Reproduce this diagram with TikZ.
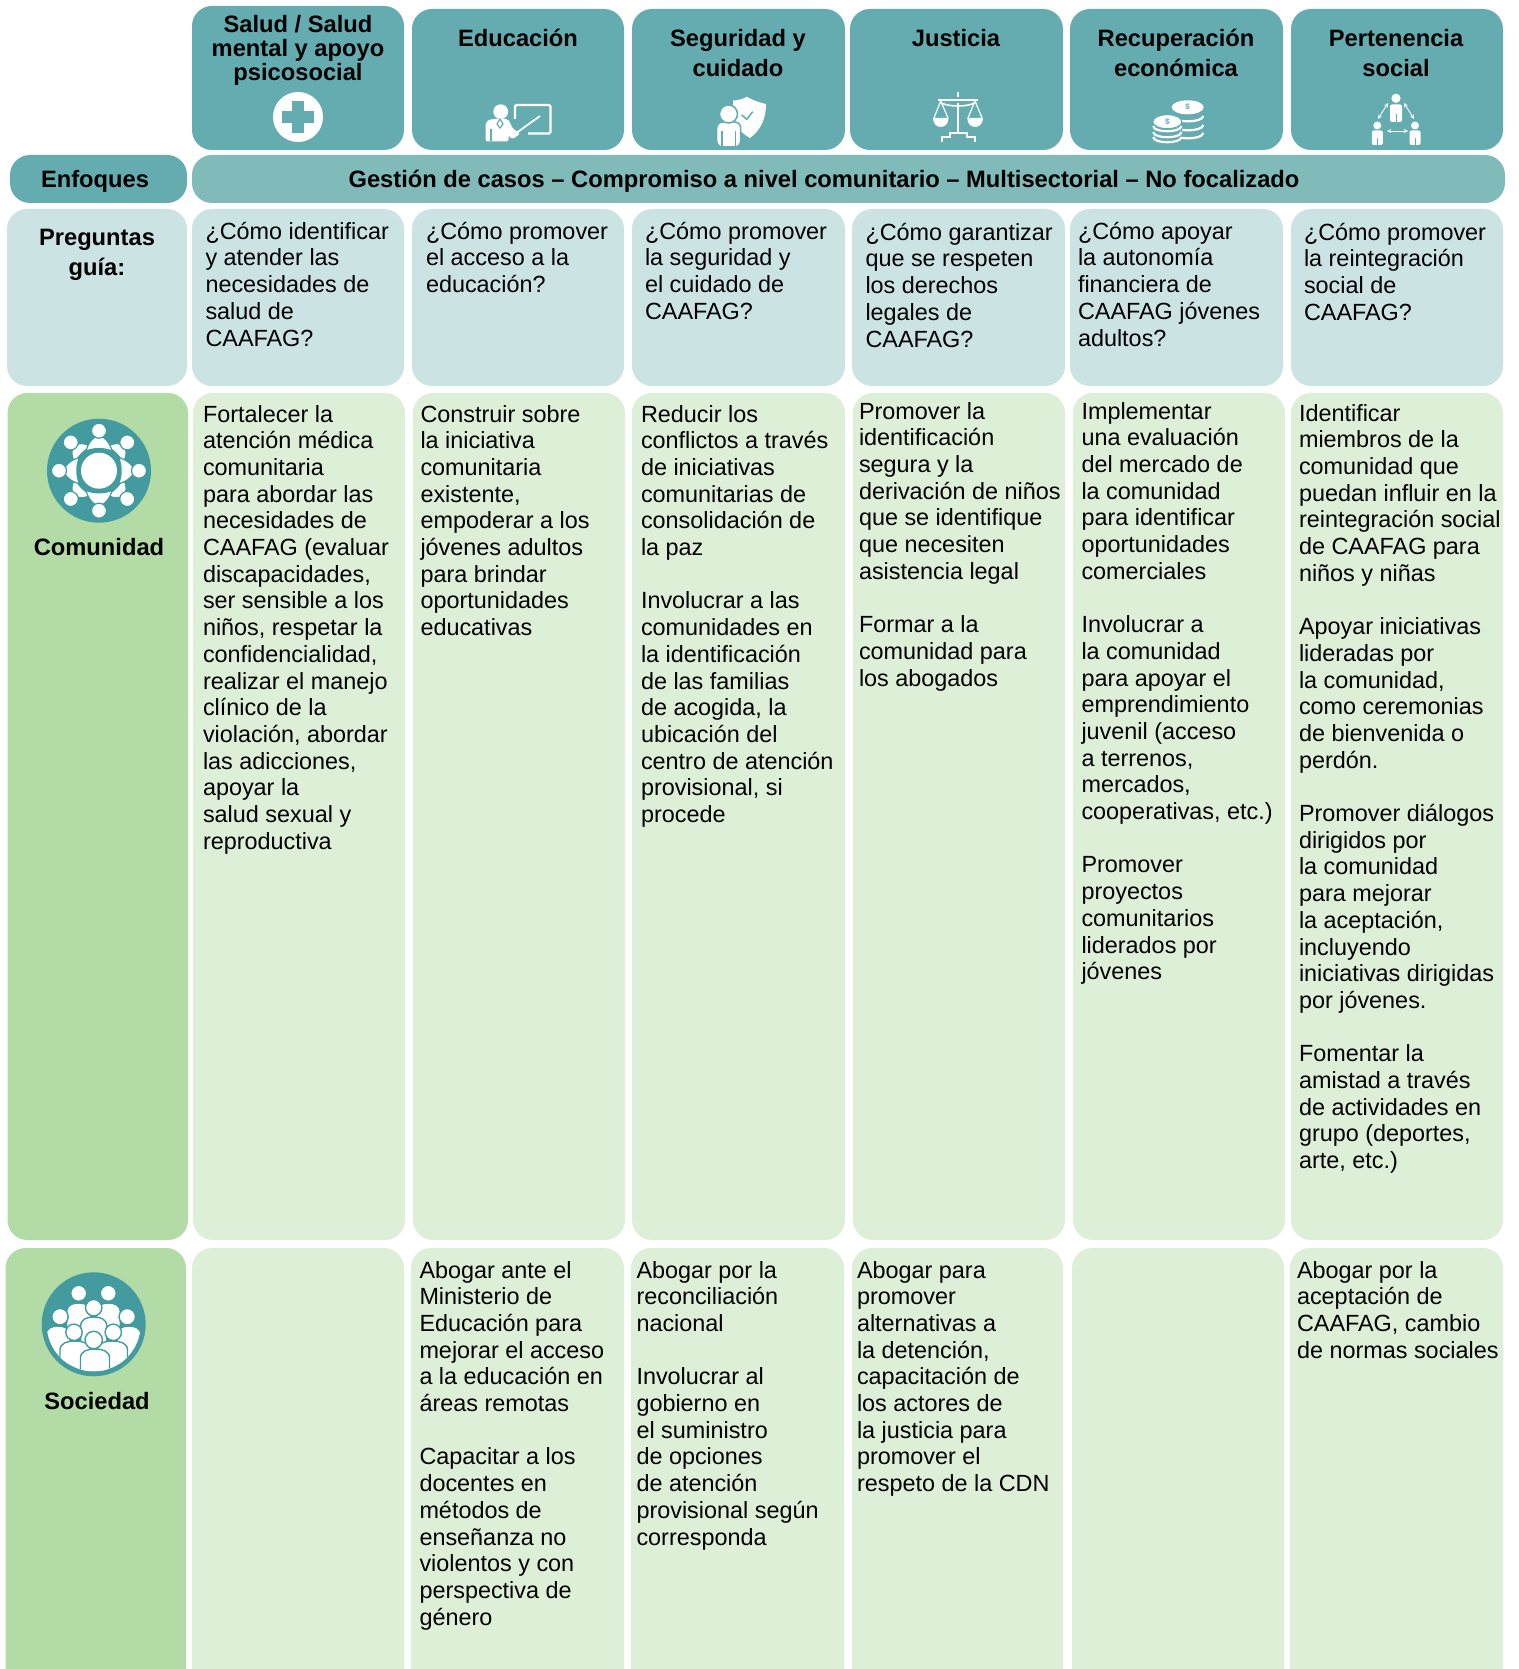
\documentclass[tikz,border=0pt]{standalone}
\usepackage{fontspec}
\setmainfont{Liberation Sans}
\definecolor{headteal}{HTML}{65ACB0}
\definecolor{bandteal}{HTML}{80BAB9}
\definecolor{paleteal}{HTML}{CBE3E3}
\definecolor{leftgreen}{HTML}{B3DBA6}
\definecolor{palegreen}{HTML}{DEEFD8}
\definecolor{iconteal}{HTML}{439A9F}
\newcommand{\cellbox}[5]{\fill[#1,rounded corners=20pt] (#2,#3) rectangle (#4,#5);}
\newcommand{\bodytext}[4]{\node[bodytxt] (#1) at (#2,{#3-17}) {\rule{0pt}{17pt}#4};}
\newcommand{\crowd}[7]{%
  \filldraw[fill=white,draw=iconteal,line width=1.4pt] ({#4-#5},#7) -- ({#4-#5},{#6+9}) .. controls ({#4-#5},{#6+2}) and ({#4-#5*0.5},#6) .. (#4,#6) .. controls ({#4+#5*0.5},#6) and ({#4+#5},{#6+2}) .. ({#4+#5},{#6+9}) -- ({#4+#5},#7) -- cycle;
  \filldraw[fill=white,draw=iconteal,line width=1.4pt] (#1,#2) circle[radius=#3 pt];}
\newcommand{\coinarc}[4]{\draw[white,line width=2.2pt] ({#1-#3},#2) .. controls ({#1-#3},{#2+#4}) and ({#1+#3},{#2+#4}) .. ({#1+#3},#2);}
\newcommand{\minifig}[6]{%
  \fill[white] (#1,#2) circle[radius=#3 pt];
  \fill[white,rounded corners=2pt] ({#1-#4},#5) rectangle ({#1+#4},#6);
  \draw[headteal,line width=0.8pt] (#1,{#5+(#6-#5)*0.55}) -- (#1,#6);}
\tikzset{
  x=1pt,y=-1pt,
  bodytxt/.style={anchor=north west,inner sep=0pt,outer sep=0pt,align=left,text=black,font=\fontsize{23.4}{26.7}\selectfont},
  headtxt/.style={anchor=center,inner sep=0pt,outer sep=0pt,align=center,text=black,font=\bfseries\fontsize{23.7}{30}\selectfont},
  tighttxt/.style={anchor=center,inner sep=0pt,outer sep=0pt,align=center,text=black,font=\bfseries\fontsize{23.7}{24}\selectfont},
  dollar/.style={inner sep=0pt,text=headteal,font=\bfseries\fontsize{8}{8}\selectfont},
  iconline/.style={white,line width=2pt},
  socarrow/.style={white,line width=0.9pt,<->,>=stealth},
}
\begin{document}
\begin{tikzpicture}
\useasboundingbox (0,0) rectangle (1518,1669);
\clip (0,0) rectangle (1518,1669);
\fill[white] (0,0) rectangle (1518,1669);
% header row
\cellbox{headteal}{192}{6}{404}{150}
\cellbox{headteal}{412}{9}{624}{150}
\cellbox{headteal}{632}{9}{845}{150}
\cellbox{headteal}{850}{9}{1063}{150}
\cellbox{headteal}{1070}{9}{1283}{150}
\cellbox{headteal}{1291}{9}{1503}{150}
% band
\cellbox{headteal}{10}{155}{187}{203}
\cellbox{bandteal}{192}{155}{1505}{203}
% question row
\cellbox{paleteal}{7}{209}{187}{386}
\cellbox{paleteal}{192}{209}{404}{386}
\cellbox{paleteal}{412}{209}{624}{386}
\cellbox{paleteal}{632}{209}{845}{386}
\cellbox{paleteal}{852}{209}{1065}{386}
\cellbox{paleteal}{1070}{209}{1283}{386}
\cellbox{paleteal}{1291}{209}{1503}{386}
% community row
\cellbox{leftgreen}{7.5}{393}{188}{1240}
\cellbox{palegreen}{193}{393}{405}{1240}
\cellbox{palegreen}{413}{393}{625}{1240}
\cellbox{palegreen}{632}{393}{845}{1240}
\cellbox{palegreen}{853}{393}{1065}{1240}
\cellbox{palegreen}{1073}{393}{1285}{1240}
\cellbox{palegreen}{1291}{393}{1503}{1240}
% society row
\cellbox{leftgreen}{5.5}{1248}{186}{1720}
\cellbox{palegreen}{192}{1248}{404}{1720}
\cellbox{palegreen}{411}{1248}{624}{1720}
\cellbox{palegreen}{631}{1248}{844}{1720}
\cellbox{palegreen}{852}{1248}{1063}{1720}
\cellbox{palegreen}{1072}{1248}{1284}{1720}
\cellbox{palegreen}{1290}{1248}{1503}{1720}
% header text
\node[tighttxt] (h1) at (298,50) {Salud / Salud\\mental y apoyo\\psicosocial};
\node[headtxt] (h2) at (518,38) {Educación};
\node[headtxt] (h3) at (738,53) {Seguridad y\\cuidado};
\node[headtxt] (h4) at (956,38) {Justicia};
\node[headtxt] (h5) at (1176,53) {Recuperación\\económica};
\node[headtxt] (h6) at (1396,53) {Pertenencia\\social};
\node[headtxt] (enf) at (95,181.5) {Enfoques};
\node[headtxt] (ges) at (824,181) {Gestión de casos – Compromiso a nivel comunitario – Multisectorial – No focalizado};
\node[headtxt] (preg) at (97,255) {Preguntas\\guía:};
\node[headtxt] (com) at (99,547) {Comunidad};
\node[headtxt] (soc) at (97,1401.5) {Sociedad};
% icon: health
\fill[white] (298,117) circle[radius=25pt];
\fill[headteal] (292,101) rectangle (304,133);
\fill[headteal] (282,111) rectangle (314,123);
% icon: education
\fill[white] (500.7,111.7) circle[radius=7.4pt];
\fill[white,rounded corners=2pt] (485.7,141.5) -- (485.7,122) -- (491,119) -- (508,119) -- (513,129) -- (517,131) -- (520,134) -- (512,139.5) -- (508.5,135) -- (508.5,141.5) -- cycle;
\draw[headteal,line width=1.2pt] (491,129) -- (491,141.5);
\draw[headteal,line width=1.2pt] (500,119) -- (497,124) -- (500,128) -- (503,124) -- cycle;
\draw[white,line width=2.2pt,rounded corners=1.5pt] (515,119) -- (515,105) -- (550.5,105) -- (550.5,133.5) -- (528,133.5);
\draw[white,line width=1.8pt] (517,132.5) -- (540,116);
% icon: safety
\fill[white] (733,100.5) .. controls (738,100.5) and (743,99) .. (747,96.7) .. controls (752,100) and (760,103) .. (766,104) .. controls (766,118) and (761,130) .. (750,138) .. controls (743,134) and (737,128) .. (733,122) -- cycle;
\draw[headteal,line width=1.5pt] (741.7,115) -- (746.7,119.3) -- (752.7,111.7);
\filldraw[fill=white,draw=headteal,line width=1.5pt,rounded corners=6pt] (716.7,147) -- (716.7,122) -- (740.7,122) -- (740.7,147) -- cycle;
\filldraw[fill=white,draw=headteal,line width=1.5pt] (728.5,114) circle[radius=9pt];
\draw[headteal,line width=1.3pt] (722,131) -- (722,146);
\draw[headteal,line width=1.3pt] (735.5,131) -- (735.5,146);
% icon: justice
\draw[iconline,line width=2.4pt] (958,92) -- (958,97);
\draw[iconline] (958,103) -- (958,133);
\draw[iconline,line width=2.4pt] (938,100) -- (978,100);
\draw[iconline,line width=1.6pt] (941,103) .. controls (950,107) and (966,107) .. (975,103);
\draw[iconline,line width=1.2pt] (934,118) -- (940.7,101) -- (948,118);
\draw[iconline,line width=1.2pt] (968,118) -- (975,101) -- (982,118);
\fill[white] (933,118) .. controls (933,124) and (937,127) .. (940.7,127) .. controls (944.5,127) and (948.5,124) .. (948.5,118) -- cycle;
\fill[white] (967.3,118) .. controls (967.3,124) and (971.3,127) .. (975,127) .. controls (979,127) and (983,124) .. (983,118) -- cycle;
\draw[iconline] (941.7,142) -- (941.7,136.7) -- (950,136.7) -- (950,132.7) -- (966.7,132.7) -- (966.7,136.7) -- (975,136.7) -- (975,142);
% icon: economy
\coinarc{1187.7}{116}{15.5}{7}
\coinarc{1187.7}{125}{15.5}{7}
\coinarc{1187.7}{133}{15.5}{7}
\fill[white] (1187.7,107.3) ellipse[x radius=16pt,y radius=7pt];
\node[dollar] (d1) at (1187.7,107.3) {\$};
\filldraw[fill=white,draw=headteal,line width=1pt] (1167.3,121.7) ellipse[x radius=14.5pt,y radius=7pt];
\fill[headteal] (1152,128) rectangle (1182,148);
\coinarc{1167.3}{126}{14}{7}
\coinarc{1167.3}{132}{14}{7}
\coinarc{1167.3}{137}{14}{7}
\node[dollar] (d2) at (1167.3,121.7) {\$};
% icon: belonging
\minifig{1396}{98.3}{4.6}{6}{104.5}{122}
\minifig{1377.3}{125.5}{4}{5.5}{130.5}{145}
\minifig{1415}{125.5}{4}{5.5}{130.5}{145}
\coordinate (sa) at (1388,103);
\coordinate (sb) at (1378,119);
\coordinate (sc) at (1404,103);
\coordinate (sd) at (1414,119);
\coordinate (se) at (1387,131);
\coordinate (sf) at (1408,131);
\draw[socarrow] (sa) -- (sb);
\draw[socarrow] (sc) -- (sd);
\draw[socarrow] (se) -- (sf);
% icon: community
\fill[iconteal] (99,470.7) circle[radius=52pt];
\foreach \a in {45,135,225,315}{
  \begin{scope}[shift={(99,470.7)},rotate=\a]
    \filldraw[fill=white,draw=iconteal,line width=1pt] (-11,-23) .. controls (-10,-30) and (-4,-35) .. (0,-35) .. controls (4,-35) and (10,-30) .. (11,-23) .. controls (5,-25) and (-5,-25) .. cycle;
    \filldraw[fill=white,draw=iconteal,line width=1.2pt] (0,-40) circle[radius=7.5pt];
  \end{scope}
}
\foreach \a in {0,90,180,270}{
  \begin{scope}[shift={(99,470.7)},rotate=\a]
    \filldraw[fill=white,draw=iconteal,line width=1.2pt] (-13,-19.5) .. controls (-11,-29) and (-4,-35) .. (0,-35) .. controls (4,-35) and (11,-29) .. (13,-19.5) .. controls (6,-23) and (-6,-23) .. cycle;
    \filldraw[fill=white,draw=iconteal,line width=1.2pt] (0,-40) circle[radius=7.5pt];
  \end{scope}
}
\fill[white] (99,470.7) circle[radius=18pt];
% icon: society
\fill[iconteal] (93.7,1324.3) circle[radius=52pt];
\begin{scope}
\clip (93.7,1324.3) circle[radius=47pt];
\crowd{78.7}{1293.3}{8}{78.7}{12}{1303}{1332}
\crowd{108.3}{1293.3}{8}{108.3}{12}{1303}{1332}
\crowd{60}{1316.7}{8.2}{58}{12}{1326}{1368}
\crowd{127.3}{1316.7}{8.2}{129}{12}{1326}{1368}
\crowd{93.7}{1307.7}{8.2}{93.7}{13}{1317}{1345}
\crowd{74}{1332.3}{8.2}{75}{15}{1341}{1374}
\crowd{113.3}{1332.3}{8.2}{112.5}{15}{1341}{1374}
\crowd{93.7}{1340}{8.7}{95}{14.5}{1349}{1376}
\end{scope}
% question texts
\bodytext{q1}{205.5}{239}{¿Cómo identificar\\y atender las\\necesidades de\\salud de\\CAAFAG?}
\bodytext{q2}{426}{239}{¿Cómo promover\\el acceso a la\\educación?}
\bodytext{q3}{645}{239}{¿Cómo promover\\la seguridad y\\el cuidado de\\CAAFAG?}
\bodytext{q4}{865.5}{240}{¿Cómo garantizar\\que se respeten\\los derechos\\legales de\\CAAFAG?}
\bodytext{q5}{1078}{239}{¿Cómo apoyar\\la autonomía\\financiera de\\CAAFAG jóvenes\\adultos?}
\bodytext{q6}{1304}{240}{¿Cómo promover\\la reintegración\\social de\\CAAFAG?}
% community texts
\bodytext{c1}{203}{422}{Fortalecer la\\atención médica\\comunitaria\\para abordar las\\necesidades de\\CAAFAG (evaluar\\discapacidades,\\ser sensible a los\\niños, respetar la\\confidencialidad,\\realizar el manejo\\clínico de la\\violación, abordar\\las adicciones,\\apoyar la\\salud sexual y\\reproductiva}
\bodytext{c2}{420.5}{422}{Construir sobre\\la iniciativa\\comunitaria\\existente,\\empoderar a los\\jóvenes adultos\\para brindar\\oportunidades\\educativas}
\bodytext{c3}{641}{422}{Reducir los\\conflictos a través\\de iniciativas\\comunitarias de\\consolidación de\\la paz\\[26.7pt]Involucrar a las\\comunidades en\\la identificación\\de las familias\\de acogida, la\\ubicación del\\centro de atención\\provisional, si\\procede}
\bodytext{c4}{859}{419}{Promover la\\identificación\\segura y la\\derivación de niños\\que se identifique\\que necesiten\\asistencia legal\\[26.7pt]Formar a la\\comunidad para\\los abogados}
\bodytext{c5}{1081.5}{419}{Implementar\\una evaluación\\del mercado de\\la comunidad\\para identificar\\oportunidades\\comerciales\\[26.7pt]Involucrar a\\la comunidad\\para apoyar el\\emprendimiento\\juvenil (acceso\\a terrenos,\\mercados,\\cooperativas, etc.)\\[26.7pt]Promover\\proyectos\\comunitarios\\liderados por\\jóvenes}
\bodytext{c6}{1299}{421}{Identificar\\miembros de la\\comunidad que\\puedan influir en la\\reintegración social\\de CAAFAG para\\niños y niñas\\[26.7pt]Apoyar iniciativas\\lideradas por\\la comunidad,\\como ceremonias\\de bienvenida o\\perdón.\\[26.7pt]Promover diálogos\\dirigidos por\\la comunidad\\para mejorar\\la aceptación,\\incluyendo\\iniciativas dirigidas\\por jóvenes.\\[26.7pt]Fomentar la\\amistad a través\\de actividades en\\grupo (deportes,\\arte, etc.)}
% society texts
\bodytext{s2}{419.5}{1278}{Abogar ante el\\Ministerio de\\Educación para\\mejorar el acceso\\a la educación en\\áreas remotas\\[26.7pt]Capacitar a los\\docentes en\\métodos de\\enseñanza no\\violentos y con\\perspectiva de\\género}
\bodytext{s3}{636.5}{1278}{Abogar por la\\reconciliación\\nacional\\[26.7pt]Involucrar al\\gobierno en\\el suministro\\de opciones\\de atención\\provisional según\\corresponda}
\bodytext{s4}{857}{1278}{Abogar para\\promover\\alternativas a\\la detención,\\capacitación de\\los actores de\\la justicia para\\promover el\\respeto de la CDN}
\bodytext{s6}{1297}{1278}{Abogar por la\\aceptación de\\CAAFAG, cambio\\de normas sociales}
\end{tikzpicture}
\end{document}
